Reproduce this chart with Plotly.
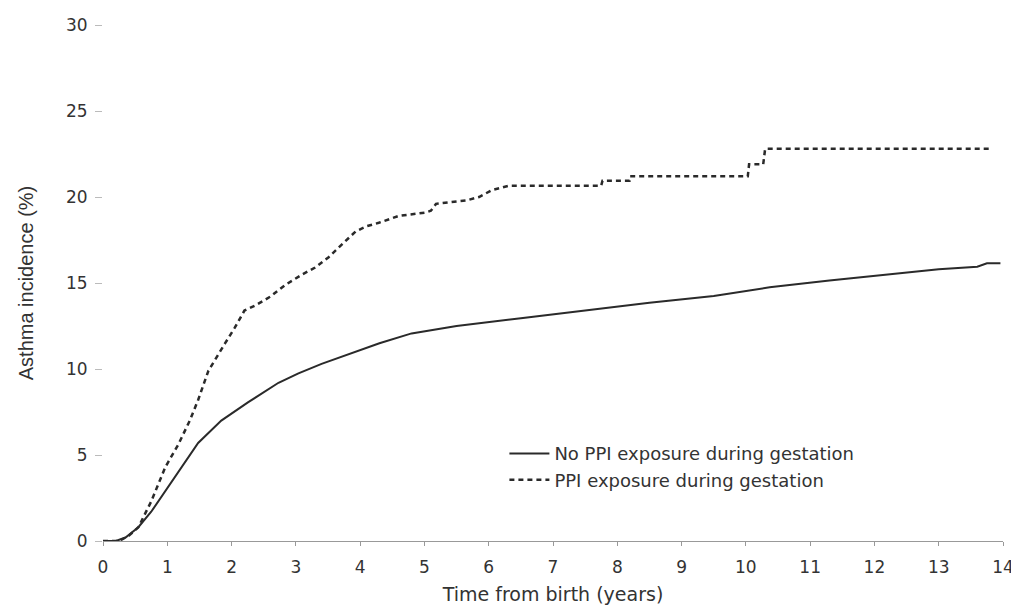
import plotly.graph_objects as go

# ---- data ----
no_ppi_t = [0, 0.2, 0.35, 0.55, 0.75, 0.97, 1.22, 1.48, 1.84, 2.26,
            2.73, 3.04, 3.4, 3.78, 4.3, 4.8, 5.5, 6.5, 7.5,
            8.5, 9.5, 10.37, 11.3, 12.3, 13.0, 13.6, 13.75, 13.96]
no_ppi_y = [0, 0, 0.2, 0.8, 1.7, 2.9, 4.3, 5.7, 7.0, 8.07,
            9.2, 9.75, 10.3, 10.8, 11.5, 12.07, 12.5, 12.95, 13.4,
            13.85, 14.25, 14.75, 15.15, 15.55, 15.8, 15.95, 16.15, 16.15]

ppi_t = [0, 0.25, 0.4, 0.55, 0.75, 0.97, 1.17, 1.35, 1.48, 1.64,
         1.9, 2.05, 2.2, 2.37, 2.6, 2.84, 3.1, 3.3, 3.51, 3.7,
         3.93, 4.1, 4.29, 4.6, 5.02, 5.1, 5.18, 5.4, 5.65, 5.85,
         6.05, 6.32, 7.75, 7.77, 8.19, 8.2, 10.03, 10.05, 10.27, 10.3,
         13.8]
ppi_y = [0, 0, 0.3, 0.8, 2.3, 4.3, 5.6, 7.0, 8.2, 9.9,
         11.5, 12.4, 13.4, 13.7, 14.2, 14.9, 15.5, 15.9, 16.5, 17.2,
         18.0, 18.3, 18.5, 18.9, 19.1, 19.2, 19.6, 19.7, 19.8, 20.0,
         20.4, 20.66, 20.66, 20.95, 20.95, 21.2, 21.2, 21.9, 21.9, 22.8,
         22.8]

series_names = ["No PPI exposure during gestation", "PPI exposure during gestation"]
x_ticks = list(range(0, 15))
y_ticks = [0, 5, 10, 15, 20, 25, 30]
x_title = "Time from birth (years)"
y_title = "Asthma incidence (%)"

FONT = "DejaVu Sans, Liberation Sans, Arial, sans-serif"
NARROW = "Liberation Sans Narrow, Liberation Sans, Arial, sans-serif"
TXT = "#333333"

fig = go.Figure()
fig.add_trace(go.Scatter(x=no_ppi_t, y=no_ppi_y, mode="lines", name=series_names[0],
                         line=dict(color="#2a2a2a", width=2)))
fig.add_trace(go.Scatter(x=ppi_t, y=ppi_y, mode="lines", name=series_names[1],
                         line=dict(color="#2a2a2a", width=2.5, dash="5px,4px")))

# page body has an 8px margin, so the figure is sized/offset to compensate
fig.update_layout(
    width=1011, height=597,
    margin=dict(l=95, r=16, t=17, b=64, autoexpand=False),
    paper_bgcolor="white", plot_bgcolor="white",
    font=dict(family=FONT, color=TXT, size=16),
    showlegend=True,
    legend=dict(x=0.446, y=0.205, xanchor="left", yanchor="top",
                bgcolor="rgba(0,0,0,0)", font=dict(size=18, family=FONT, color=TXT),
                tracegroupgap=0, itemwidth=40),
    xaxis=dict(range=[0, 14], tickvals=x_ticks, ticktext=[str(v) for v in x_ticks],
               showgrid=False, zeroline=False, showline=True, linecolor="#999999", linewidth=1,
               ticks="outside", ticklen=4, tickcolor="#999999", tickwidth=1,
               ticklabelstandoff=7, ticklabeloverflow="allow",
               tickfont=dict(size=17, family=FONT, color=TXT),
               title=dict(text=x_title, font=dict(size=19, family=FONT, color=TXT), standoff=24)),
    yaxis=dict(range=[0, 30], tickvals=y_ticks, ticktext=[str(v) for v in y_ticks],
               showgrid=False, zeroline=False, showline=False,
               ticks="outside", ticklen=7, tickcolor="#bbbbbb", tickwidth=1,
               ticklabelstandoff=4,
               tickfont=dict(size=17, family=FONT, color=TXT),
               title=dict(text=y_title, font=dict(size=20, family=NARROW, color=TXT), standoff=26)),
)

fig.write_html("out.html")
